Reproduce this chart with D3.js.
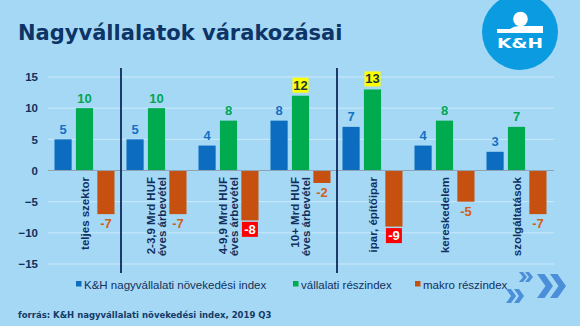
<!DOCTYPE html>
<html>
<head>
<meta charset="utf-8">
<script src="https://cdn.jsdelivr.net/npm/d3@7"></script>
<style>
  html, body { margin: 0; padding: 0; background: #a5d8f5; }
  svg { display: block; font-family: "Liberation Sans", Arial, sans-serif; }
</style>
</head>
<body>
<svg id="chart" width="580" height="326"></svg>
<script>
// sectors / size groups
const categories = ["teljes szektor", "2-3,9 Mrd HUF", "4-9,9 Mrd HUF", "10+ Mrd HUF",
                    "ipar, építőipar", "kereskedelem", "szolgáltatások"];
const catLines = [["teljes szektor"], ["2-3,9 Mrd HUF", "éves árbevétel"],
                  ["4-9,9 Mrd HUF", "éves árbevétel"], ["10+ Mrd HUF", "éves árbevétel"],
                  ["ipar, építőipar"], ["kereskedelem"], ["szolgáltatások"]];
const seriesNames = ["K&H nagyvállalati növekedési index", "vállalati részindex", "makro részindex"];
const growthIndex = [5, 5, 4, 8, 7, 4, 3];
const companyIndex = [10, 10, 8, 12, 13, 8, 7];
const macroIndex = [-7, -7, -8, -2, -9, -5, -7];
const yTicks = [15, 10, 5, 0, -5, -10, -15];
// labels shown with a highlight box: [series, category]
const highlighted = [[1, 3], [1, 4], [2, 2], [2, 4]];

const barColors = ["#0b6cc0", "#00ab4f", "#c6500f"];
const labelColors = ["#1670c4", "#00a650", "#d0601a"];
const navy = "#12305c";
const wideFont = "'DejaVu Sans', Verdana, sans-serif";

const svg = d3.select("#chart");

// title
svg.append("text")
    .attr("x", 18).attr("y", 40)
    .style("font-family", wideFont)
    .style("font-size", "21px").style("font-weight", "bold")
    .attr("fill", "#0d3466")
    .text("Nagyvállalatok várakozásai");

// logo
const logo = svg.append("g");
logo.append("circle").attr("cx", 520).attr("cy", 32).attr("r", 38).attr("fill", "#0a9be0");
logo.append("circle").attr("cx", 520.5).attr("cy", 19).attr("r", 7.3).attr("fill", "#fff");
logo.append("path")
    .attr("d", "M497,29 L510,29 Q514,26 520,26 L543,26 L543,33 L497,33 Z")
    .attr("fill", "#fff");
logo.append("text")
    .attr("x", 497).attr("y", 48)
    .attr("textLength", 46).attr("lengthAdjust", "spacingAndGlyphs")
    .style("font-family", wideFont)
    .style("font-size", "14px").style("font-weight", "bold").attr("fill", "#fff")
    .text("K&H");

// decorative chevrons
function chevron(g, x, y, w, h, t) {
    g.append("path")
        .attr("d", `M${x},${y} L${x + t},${y} L${x + w},${y + h / 2} L${x + t},${y + h} L${x},${y + h} L${x + w - t},${y + h / 2} Z`)
        .attr("fill", "#4a8fd8");
}
const chev = svg.append("g");
chevron(chev, 537, 274, 16, 24, 7.5);
chevron(chev, 550, 274, 16, 24, 7.5);
chevron(chev, 519, 272, 8, 10, 4);
chevron(chev, 525, 272, 8, 10, 4);
chevron(chev, 506, 289, 10, 14, 5);
chevron(chev, 514, 289, 10, 14, 5);

// scales
const y = d3.scaleLinear().domain([-15, 15]).range([264, 77]);
const x0 = d3.scaleBand().domain(categories).range([48, 552]).padding(0);
const x1 = d3.scaleBand().domain([0, 1, 2]).range([6.5, 66.5]).paddingInner(0.2);

// gridlines
svg.append("g").selectAll("line")
    .data(yTicks.filter(d => d !== 0))
    .join("line")
    .attr("x1", 48).attr("x2", 554)
    .attr("y1", d => y(d)).attr("y2", d => y(d))
    .attr("stroke", "#cbe9fb").attr("stroke-width", 1);

// y axis labels
const yAxis = svg.append("g")
    .attr("transform", "translate(42,0)")
    .call(d3.axisLeft(y).tickValues(yTicks).tickSize(0).tickPadding(4));
yAxis.select(".domain").remove();
yAxis.selectAll("text")
    .style("font-size", "11.5px").style("font-weight", "bold")
    .style("font-family", "'Liberation Sans', Arial, sans-serif")
    .attr("fill", navy);

// bars
const series = [growthIndex, companyIndex, macroIndex];
const groups = svg.append("g").selectAll("g")
    .data(categories)
    .join("g")
    .attr("transform", d => `translate(${x0(d)},0)`);

groups.each(function (cat, ci) {
    const g = d3.select(this);
    series.forEach((vals, si) => {
        const v = vals[ci];
        g.append("rect")
            .attr("x", x1(si))
            .attr("width", x1.bandwidth())
            .attr("y", y(Math.max(0, v)))
            .attr("height", Math.abs(y(v) - y(0)))
            .attr("fill", barColors[si]);
    });
});

// zero line
svg.append("line")
    .attr("x1", 48).attr("x2", 554)
    .attr("y1", y(0)).attr("y2", y(0))
    .attr("stroke", "#8fa3b5").attr("stroke-width", 1.2);

// value labels
groups.each(function (cat, ci) {
    const g = d3.select(this);
    series.forEach((vals, si) => {
        const v = vals[ci];
        const cx = x1(si) + x1.bandwidth() / 2;
        const hi = highlighted.some(h => h[0] === si && h[1] === ci);
        const ty = v >= 0 ? y(v) - 5.5 : y(v) + 14;
        if (hi) {
            const boxH = 15;
            const boxW = 16;
            const by = v >= 0 ? y(v) - 3 - boxH : y(v) + 1.5;
            g.append("rect")
                .attr("x", cx - boxW / 2).attr("y", by)
                .attr("width", boxW).attr("height", boxH)
                .attr("fill", v >= 0 ? "#ffff00" : "#ff0000");
            g.append("text")
                .attr("x", cx).attr("y", by + 12)
                .attr("text-anchor", "middle")
                .style("font-size", "13px").style("font-weight", "bold")
                .attr("fill", v >= 0 ? "#1a3a3a" : "#fff")
                .text(v);
        } else {
            g.append("text")
                .attr("x", cx).attr("y", ty)
                .attr("text-anchor", "middle")
                .style("font-size", "13px").style("font-weight", "bold")
                .attr("fill", labelColors[si])
                .text(v);
        }
    });
});

// category labels, rotated, centred on the middle bar
groups.each(function (cat, ci) {
    const g = d3.select(this);
    const lines = catLines[ci];
    const cx = x1(1) + x1.bandwidth() / 2;
    const lh = 10.5;
    lines.forEach((ln, li) => {
        const off = (li - (lines.length - 1) / 2) * lh + 4;
        g.append("text")
            .attr("transform", `translate(${cx + off},177) rotate(-90)`)
            .attr("text-anchor", "end")
            .style("font-size", "11.5px").style("font-weight", "bold")
            .attr("fill", navy)
            .text(ln);
    });
});

// separators
[1, 4].forEach(i => {
    const sx = x0(categories[i]) + 1;
    svg.append("line")
        .attr("x1", sx).attr("x2", sx)
        .attr("y1", 68).attr("y2", 273)
        .attr("stroke", "#0d2a5c").attr("stroke-width", 1.8);
});

// legend
const legX = [76, 293, 415];
const legend = svg.append("g");
seriesNames.forEach((name, i) => {
    legend.append("rect")
        .attr("x", legX[i]).attr("y", 281)
        .attr("width", 5.5).attr("height", 5.5)
        .attr("fill", barColors[i]);
    legend.append("text")
        .attr("x", legX[i] + 8).attr("y", 288.5)
        .style("font-size", "11.5px")
        .attr("fill", navy)
        .text(name);
});

// source
svg.append("text")
    .attr("x", 18).attr("y", 318)
    .style("font-family", wideFont)
    .style("font-size", "8.5px").style("font-weight", "bold")
    .attr("fill", "#163a66")
    .text("forrás: K&H nagyvállalati növekedési index, 2019 Q3");
</script>
</body>
</html>
